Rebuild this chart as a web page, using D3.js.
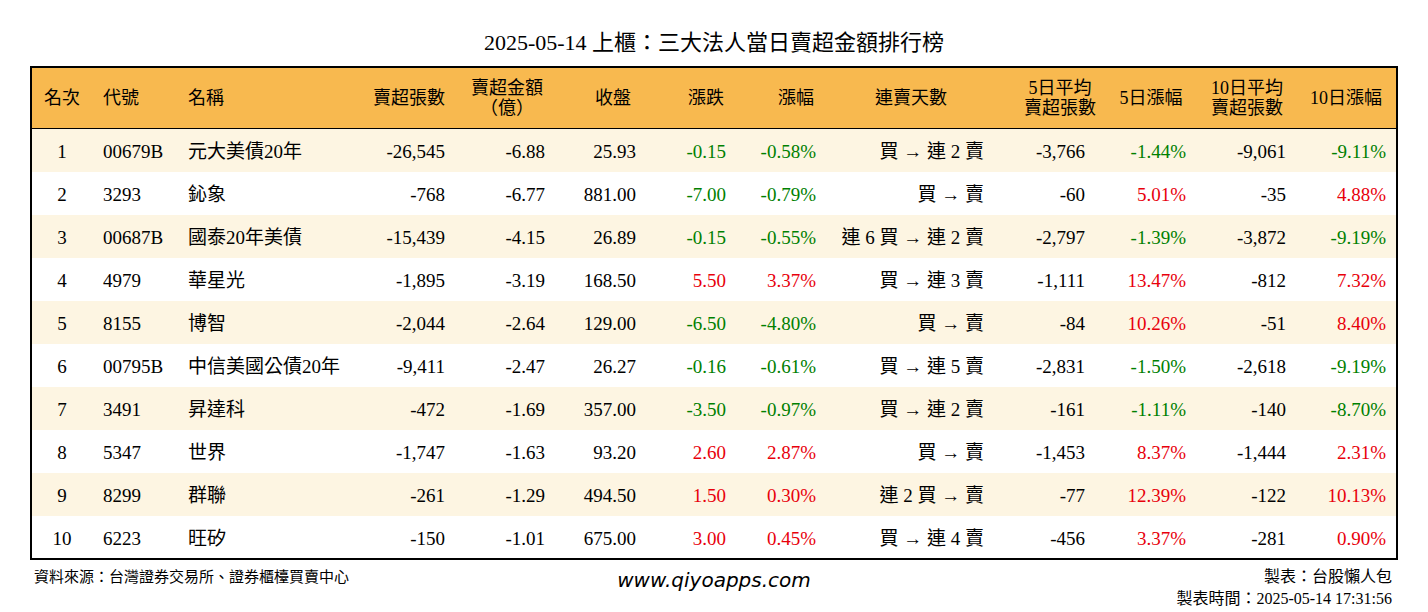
<!DOCTYPE html><html><head><meta charset="utf-8"><script src="https://cdn.jsdelivr.net/npm/d3@7"></script>
<style>body{margin:0;background:#fff}</style></head><body><svg id="c" width="1428" height="612"></svg>
<script>
const ranks=[1,2,3,4,5,6,7,8,9,10];
const codes=["00679B","3293","00687B","4979","8155","00795B","3491","5347","8299","6223"];
const names=["元大美債20年","鈊象","國泰20年美債","華星光","博智","中信美國公債20年","昇達科","世界","群聯","旺矽"];
const netLots=[-26545,-768,-15439,-1895,-2044,-9411,-472,-1747,-261,-150];
const netAmt=[-6.88,-6.77,-4.15,-3.19,-2.64,-2.47,-1.69,-1.63,-1.29,-1.01];
const closes=[25.93,881.00,26.89,168.50,129.00,26.27,357.00,93.20,494.50,675.00];
const changes=[-0.15,-7.00,-0.15,5.50,-6.50,-0.16,-3.50,2.60,1.50,3.00];
const pct=[-0.58,-0.79,-0.55,3.37,-4.80,-0.61,-0.97,2.87,0.30,0.45];
const streak=["買 → 連 2 賣","買 → 賣","連 6 買 → 連 2 賣","買 → 連 3 賣","買 → 賣","買 → 連 5 賣","買 → 連 2 賣","買 → 賣","連 2 買 → 賣","買 → 連 4 賣"];
const avg5=[-3766,-60,-2797,-1111,-84,-2831,-161,-1453,-77,-456];
const pct5=[-1.44,5.01,-1.39,13.47,10.26,-1.50,-1.11,8.37,12.39,3.37];
const avg10=[-9061,-35,-3872,-812,-51,-2618,-140,-1444,-122,-281];
const pct10=[-9.11,4.88,-9.19,7.32,8.40,-9.19,-8.70,2.31,10.13,0.90];
const headers=[["名次"],["代號"],["名稱"],["賣超張數"],["賣超金額","（億）"],["收盤"],["漲跌"],["漲幅"],["連賣天數"],["5日平均","賣超張數"],["5日漲幅"],["10日平均","賣超張數"],["10日漲幅"]];

const F="'Liberation Serif','Noto Sans CJK TC',serif";
const svg=d3.select("#c");
const L=31,R=1397,T=67,HB=129,rowH=43;
const y=d3.scaleBand().domain(d3.range(10)).range([HB,HB+rowH*10]);
const RED="#e8000b",GRN="#008000";
svg.append("text").attr("x",714).attr("y",50).attr("text-anchor","middle").attr("font-family",F).attr("font-size",22).text("2025-05-14 上櫃：三大法人當日賣超金額排行榜");
svg.append("rect").attr("x",L).attr("y",T).attr("width",R-L).attr("height",HB-T).attr("fill","#f8b94f");
svg.append("line").attr("x1",L).attr("x2",R).attr("y1",HB).attr("y2",HB).attr("stroke","#000").attr("stroke-width",2);
svg.selectAll(".bg").data(d3.range(10)).join("rect").attr("x",L).attr("y",i=>y(i)).attr("width",R-L).attr("height",rowH).attr("fill",i=>i%2==0?"#fdf5e2":"#fff");
svg.append("rect").attr("x",L).attr("y",T).attr("width",R-L).attr("height",HB+rowH*10-T).attr("fill","none").attr("stroke","#000").attr("stroke-width",2);
const loc=d3.formatLocale({decimal:".",thousands:",",grouping:[3],currency:["",""],minus:"-"});
const fmt=loc.format(",");const f2=loc.format(".2f");
const sc=v=>v<0?GRN:v>0?RED:"#000";
const cols=[
 {x:62,a:"middle",hx:62,ha:"middle",v:i=>ranks[i]},
 {x:103,a:"start",hx:103,ha:"start",v:i=>codes[i]},
 {x:188,a:"start",hx:188,ha:"start",v:i=>names[i]},
 {x:445,a:"end",hx:445,ha:"end",v:i=>fmt(netLots[i])},
 {x:545,a:"end",hx:507,ha:"middle",v:i=>f2(netAmt[i])},
 {x:636,a:"end",hx:613,ha:"middle",v:i=>f2(closes[i])},
 {x:726,a:"end",hx:706,ha:"middle",v:i=>f2(changes[i]),c:i=>sc(changes[i])},
 {x:816,a:"end",hx:796,ha:"middle",v:i=>f2(pct[i])+"%",c:i=>sc(pct[i])},
 {x:984,a:"end",hx:911,ha:"middle",v:i=>streak[i]},
 {x:1085,a:"end",hx:1060,ha:"middle",v:i=>fmt(avg5[i])},
 {x:1186,a:"end",hx:1151,ha:"middle",v:i=>f2(pct5[i])+"%",c:i=>sc(pct5[i])},
 {x:1286,a:"end",hx:1247,ha:"middle",v:i=>fmt(avg10[i])},
 {x:1386,a:"end",hx:1346,ha:"middle",v:i=>f2(pct10[i])+"%",c:i=>sc(pct10[i])}];
cols.forEach((c,k)=>{
 const h=headers[k];
 h.forEach((t,j)=>svg.append("text").attr("x",c.hx).attr("y",h.length==1?104:(j==0?94:114)).attr("text-anchor",c.ha).attr("font-family",F).attr("font-size",18).text(t));
 svg.selectAll(null).data(d3.range(10)).join("text").attr("x",c.x).attr("y",i=>y(i)+rowH/2+7).attr("text-anchor",c.a).attr("font-family",F).attr("font-size",19).attr("fill",i=>c.c?c.c(i):"#000").text(c.v);
});
svg.append("text").attr("x",34).attr("y",582).attr("font-family",F).attr("font-size",15).text("資料來源：台灣證券交易所、證券櫃檯買賣中心");
svg.append("text").attr("x",714).attr("y",587).attr("text-anchor","middle").attr("font-family","'DejaVu Sans',sans-serif").attr("font-style","italic").attr("font-size",20).text("www.qiyoapps.com");
svg.append("text").attr("x",1392).attr("y",582).attr("text-anchor","end").attr("font-family",F).attr("font-size",16).text("製表：台股懶人包");
svg.append("text").attr("x",1392).attr("y",604).attr("text-anchor","end").attr("font-family",F).attr("font-size",16).text("製表時間：2025-05-14 17:31:56");
</script></body></html>
